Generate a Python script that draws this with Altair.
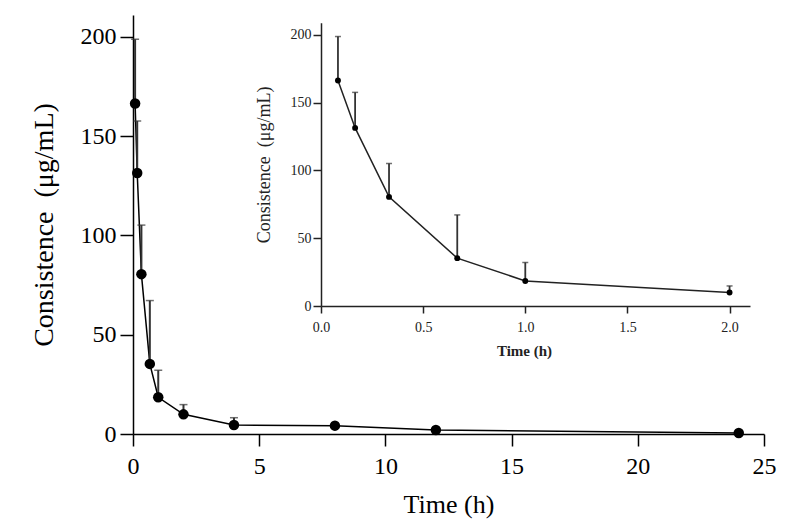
import altair as alt
import pandas as pd

# Sampling times (h) and plasma concentration (mean, SD)
time_h = [0.083, 0.167, 0.333, 0.667, 1.0, 2.0, 4.0, 8.0, 12.0, 24.0]
mean_conc = [166.4, 131.4, 80.5, 35.3, 18.5, 9.9, 4.5, 4.2, 2.0, 0.5]
sd_conc = [32.4, 26.2, 24.7, 31.9, 13.6, 4.9, 3.7, 0.0, 0.0, 0.0]

main_x_ticks = [0, 5, 10, 15, 20, 25]
main_y_ticks = [0, 50, 100, 150, 200]
inset_x_ticks = [0.0, 0.5, 1.0, 1.5, 2.0]
inset_y_ticks = [0, 50, 100, 150, 200]
inset_max_time = 2.0

df = pd.DataFrame({"time": time_h, "mean": mean_conc, "sd": sd_conc})
df["upper"] = df["mean"] + df["sd"]
df_err = df[df["sd"] > 0]
df_in = df[df["time"] <= inset_max_time]
df_in_err = df_in[df_in["sd"] > 0]

FONT = "Liberation Serif"
YT = "Consistence\u2002(\u03bcg/mL)"

W, H = 631, 419
# inset placement inside the main plot area (pixels)
IN_X0, IN_X1 = 188, 617
IN_Y0, IN_Y1 = 291, 7.7


def build(data, data_err, xscale, yscale, xax, yax, big):
    col = "black" if big else "#222222"
    line = alt.Chart(data).mark_line(color=col, strokeWidth=1.5).encode(
        x=alt.X("time:Q", scale=xscale, axis=xax), y=alt.Y("mean:Q", scale=yscale, axis=yax))
    err = alt.Chart(data_err).mark_rule(color="#333333", strokeWidth=2 if big else 1.8).encode(
        x="time:Q", y="mean:Q", y2="upper:Q")
    cap = alt.Chart(data_err).mark_tick(color="#333333", orient="horizontal",
                                        size=8 if big else 6, thickness=1.5).encode(
        x="time:Q", y="upper:Q")
    pts = alt.Chart(data).mark_point(filled=True, color="black", opacity=1,
                                     size=110 if big else 35).encode(x="time:Q", y="mean:Q")
    return alt.layer(line, err, cap, pts)


main_xax = alt.Axis(values=main_x_ticks, title="Time (h)", grid=False, orient="bottom",
                    labelFont=FONT, labelFontSize=24, labelColor="black",
                    titleFont=FONT, titleFontSize=26, titleFontWeight="normal", titleColor="black",
                    tickSize=12, tickColor="black", domainColor="black", tickWidth=1.5, domainWidth=1.5,
                    labelPadding=8, titlePadding=13, format="d", labelFlush=False)
main_yax = alt.Axis(values=main_y_ticks, title=YT, grid=False, orient="left",
                    labelFont=FONT, labelFontSize=24, labelColor="black",
                    titleFont=FONT, titleFontSize=28, titleFontWeight="normal", titleColor="black",
                    tickSize=13, tickColor="black", domainColor="black", tickWidth=1.5, domainWidth=1.5,
                    labelPadding=4, titlePadding=22, labelFlush=False)
in_xax = alt.Axis(values=inset_x_ticks, title="Time (h)", grid=False, orient="bottom",
                  offset=IN_Y0 - H,
                  labelFont=FONT, labelFontSize=14, labelColor="#222222",
                  titleFont=FONT, titleFontSize=15, titleFontWeight="bold", titleColor="#222222",
                  titleX=391,
                  tickSize=7, tickColor="#222222", domainColor="#222222", tickWidth=1.5, domainWidth=1.5,
                  labelPadding=7, titlePadding=9, format=".1f", labelFlush=False)
in_yax = alt.Axis(values=inset_y_ticks, title=YT, grid=False, orient="left",
                  offset=-IN_X0,
                  labelFont=FONT, labelFontSize=14, labelColor="#222222",
                  titleFont=FONT, titleFontSize=18, titleFontWeight="normal", titleColor="#222222",
                  tickSize=8, tickColor="#222222", domainColor="#222222", tickWidth=1.5, domainWidth=1.5,
                  labelPadding=2, titlePadding=17, labelFlush=False)

main = build(df, df_err,
             alt.Scale(domain=[0, 25], nice=False, zero=False),
             alt.Scale(domain=[0, 211], nice=False),
             main_xax, main_yax, True)
inset = build(df_in, df_in_err,
              alt.Scale(domain=[0, 2.1], nice=False, zero=False, range=[IN_X0, IN_X1]),
              alt.Scale(domain=[0, 209], nice=False, range=[IN_Y0, IN_Y1]),
              in_xax, in_yax, False)

chart = alt.layer(main, inset).resolve_scale(x="independent", y="independent").properties(
    width=W, height=H,
    autosize=alt.AutoSizeParams(type="none"),
    padding={"left": 125, "top": 7, "right": 26, "bottom": 86},
).configure_view(stroke=None)

chart.save("out.html", embed_options={"renderer": "svg", "actions": False})
